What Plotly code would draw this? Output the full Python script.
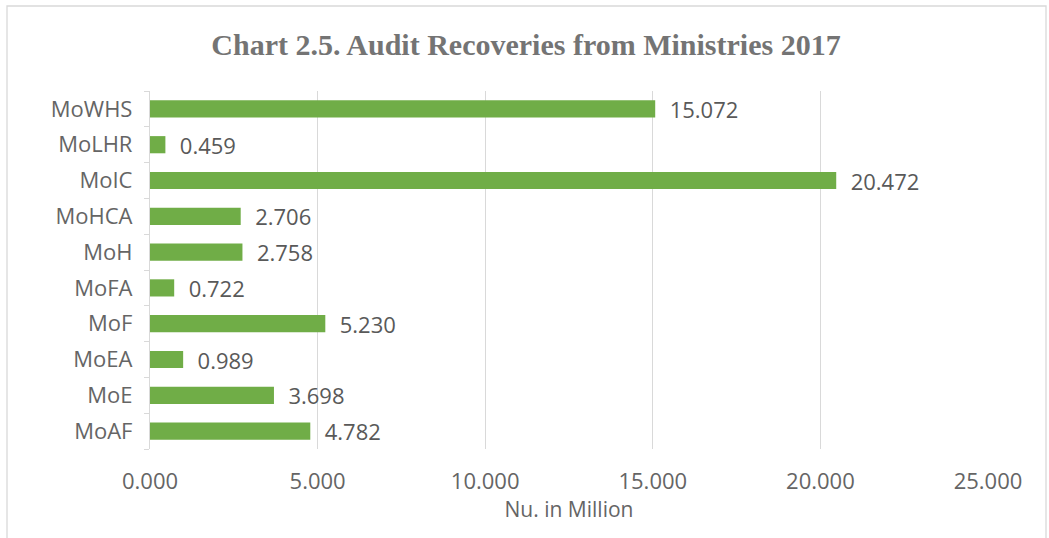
import plotly.graph_objects as go

categories = ["MoAF", "MoE", "MoEA", "MoF", "MoFA", "MoH", "MoHCA", "MoIC", "MoLHR", "MoWHS"]
values = [4.782, 3.698, 0.989, 5.230, 0.722, 2.758, 2.706, 20.472, 0.459, 15.072]
x_ticks = [0, 5, 10, 15, 20, 25]

W, H = 1049, 538
L, R, T, B = 150, 61, 91, 89
pw, ph = W - L - R, H - T - B

FONT = "Open Sans, Liberation Sans, sans-serif"
GRAY = "#595959"

fig = go.Figure(go.Bar(
    y=categories, x=values, orientation="h",
    marker=dict(color="#70AD47", line=dict(width=0)),
    texttemplate="  %{x:.3f}", textposition="outside", cliponaxis=False,
    constraintext="none",
    textfont=dict(family=FONT, size=22, color=GRAY),
    width=0.48,
))

def px_x(v):
    return (v - L) / pw

def px_y(v):
    return 1 - (v - T) / ph

fig.update_layout(
    width=W, height=H,
    margin=dict(l=L, r=R, t=T, b=B),
    paper_bgcolor="white", plot_bgcolor="white",
    showlegend=False,
    title=dict(text="<b>Chart 2.5. Audit Recoveries from Ministries 2017</b>",
               x=526 / W, xref="container", xanchor="center", y=1 - 44 / H, yanchor="middle",
               font=dict(family="Liberation Serif, DejaVu Serif, serif", size=30, color="#747474")),
    xaxis=dict(range=[0, 25], tickvals=x_ticks, tickformat=".3f",
               showgrid=True, gridcolor="#D9D9D9", gridwidth=1.3,
               zeroline=False, showline=False,
               ticks="outside", ticklen=13, tickcolor="rgba(0,0,0,0)",
               tickfont=dict(family=FONT, size=22, color="#656565"),
               title=dict(text="Nu. in Million", standoff=0,
                          font=dict(family=FONT, size=21, color="#656565"))),
    yaxis=dict(type="category", categoryorder="array", categoryarray=categories,
               showline=True, linecolor="#D9D9D9", linewidth=1.3,
               ticks="outside", tickson="boundaries", ticklen=5, tickcolor="#D9D9D9",
               ticklabelstandoff=12,
               showgrid=False,
               tickfont=dict(family=FONT, size=22, color="#656565")),
    shapes=[dict(type="rect", xref="paper", yref="paper",
                 x0=px_x(7), x1=px_x(1046), y0=px_y(545), y1=px_y(6),
                 line=dict(color="#D9D9D9", width=1.3), fillcolor="rgba(0,0,0,0)", layer="below")],
)

fig.write_html("out.html")
